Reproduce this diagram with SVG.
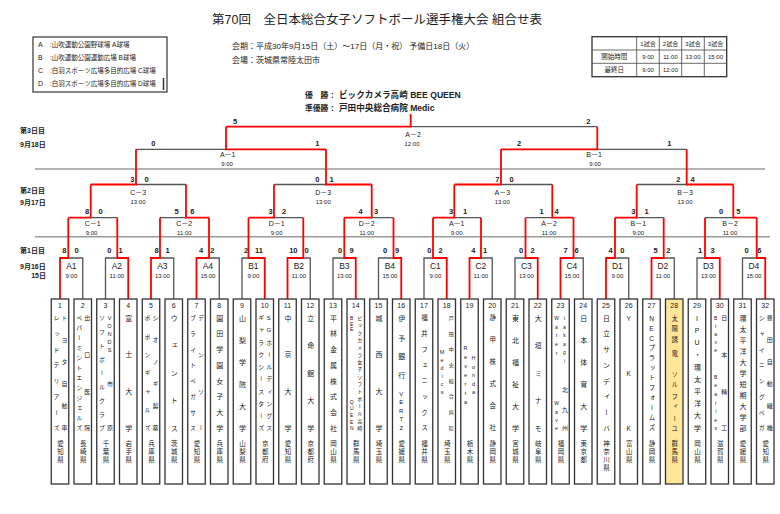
<svg xmlns="http://www.w3.org/2000/svg" width="780" height="514" viewBox="0 0 780 514">
<style>
text{font-family:"Liberation Sans","Noto Sans CJK JP",sans-serif;fill:#222}
.g{stroke:#555;stroke-width:1.3;fill:none}
.r{stroke:#f00;stroke-width:1.8;fill:none}
.sep{stroke:#9a9a9a;stroke-width:1.6}
.tb{fill:#fff;stroke:#333;stroke-width:1.3}
.hl{fill:#ffe699}
.no{font-size:7px;text-anchor:middle}
.v{writing-mode:vertical-rl;text-orientation:upright;text-anchor:middle}
.f7{font-size:7px}.f65{font-size:6.5px}.f6{font-size:6px}.f55{font-size:5.5px}.f5{font-size:5px}
.pf{font-size:6.5px}
.sc{font-size:7.5px;font-weight:bold;text-anchor:middle}
.ml{font-size:7px;text-anchor:middle}
.mt{font-size:6px;text-anchor:middle}
.fl{font-size:8.5px;text-anchor:middle}
.day{font-size:7px;font-weight:bold}
.lg{font-size:6.5px}
.tt{font-size:6px;text-anchor:middle}
.win{font-size:8.6px;font-weight:bold}
.wl{font-size:7.8px;font-weight:bold}
</style>

<g id="header">
<text x="212" y="24" style="font-size:12.5px">第70回　全日本総合女子ソフトボール選手権大会 組合せ表</text>
<text x="232" y="49" style="font-size:8px">会期：平成30年9月15日（土）～17日（月・祝） 予備日18日（火）</text>
<text x="232" y="63" style="font-size:8px">会場：茨城県常陸太田市</text>
<text class="wl" x="305" y="98">優　勝</text><text class="win" x="331" y="98">:</text><text class="win" x="339" y="98">ビックカメラ高崎 BEE QUEEN</text>
<text class="wl" x="305" y="111">準優勝</text><text class="win" x="331" y="111">:</text><text class="win" x="339" y="111">戸田中央総合病院 Medic</text>
</g>

<g id="legend">
<rect x="33" y="37" width="134" height="55" fill="none" stroke="#333" stroke-width="1.2"/>
<line x1="163.5" y1="78" x2="163.5" y2="90" stroke="#333" stroke-width="1.5"/>
<text class="lg" x="38" y="46.5" style="font-size:7px">A</text><text class="lg" x="50" y="46.5">:山吹運動公園野球場 A球場</text>
<text class="lg" x="38" y="59.5" style="font-size:7px">B</text><text class="lg" x="50" y="59.5">:山吹運動公園運動広場 B球場</text>
<text class="lg" x="38" y="72.5" style="font-size:7px">C</text><text class="lg" x="50" y="72.5">:白羽スポーツ広場多目的広場 C球場</text>
<text class="lg" x="38" y="85.5" style="font-size:7px">D</text><text class="lg" x="50" y="85.5">:白羽スポーツ広場多目的広場 D球場</text>
</g>

<g id="schedule-table">
<rect x="592" y="36.7" width="134.7" height="40" fill="none" stroke="#333" stroke-width="1.3"/>
<path d="M636.7 36.7V76.7M659.3 36.7V76.7M681.7 36.7V76.7M704.3 36.7V76.7M592 50H726.7M592 63.3H726.7" stroke="#444" stroke-width="0.8" fill="none"/>
<text class="tt" x="648" y="45.5">1試合</text><text class="tt" x="670.5" y="45.5">2試合</text><text class="tt" x="693" y="45.5">3試合</text><text class="tt" x="715.5" y="45.5">3試合</text>
<text class="tt" x="614.3" y="59" style="font-size:6.5px">開始時間</text><text class="tt" x="648" y="59">9:00</text><text class="tt" x="670.5" y="59">11:00</text><text class="tt" x="693" y="59">13:00</text><text class="tt" x="715.5" y="59">15:00</text>
<text class="tt" x="614.3" y="72.3" style="font-size:6.5px">最終日</text><text class="tt" x="648" y="72.3">9:00</text><text class="tt" x="670.5" y="72.3">12:00</text>
</g>

<g id="day-labels">
<text class="day" x="20" y="133">第3日目</text>
<text class="day" x="20" y="147">9月18日</text>
<text class="day" x="20" y="193">第2日目</text>
<text class="day" x="20" y="205">9月17日</text>
<text class="day" x="20" y="253">第1日目</text>
<text class="day" x="20" y="268.5">9月16日</text>
<text class="day" x="46" y="277.5" text-anchor="end">15日</text>
<line class="sep" x1="35" y1="169" x2="765" y2="169"/>
<line class="sep" x1="35" y1="236.7" x2="770" y2="236.7"/>
</g>

<g id="connectors">
<path class="g" d="M82.75 299V258H68.3M105.5 299V258H117.3M173.75 299V258H160M219.25 299V258H209M242 299V258H248.5M310.25 299V258H303.3M333 299V258H344.3M378.5 299V258H393.5M424 299V258H433M492.25 299V258H481M515 299V258H525.5M583.25 299V258H573.5M628.75 299V258H615M674.25 299V258H663.7M697 299V258H705M742.5 299V258H756.7"/>
<path class="g" d="M117.3 217.7H90.7M160 217.7H186M303.3 217.7H274M393.5 217.7H371.7M481 217.7H454.3M525.5 217.7H552.3M663.7 217.7H636.7M705 217.7H733.3"/>
<path class="g" d="M186 184.5H136M274 184.5H326M552.3 184.5H501M636.7 184.5H686.7"/>
<path class="g" d="M136 149.3H226M686.7 149.3H597.3M597.3 126.7H410.7"/>
<path class="r" d="M60 299V258H68.3V217.7M128.25 299V258H117.3V217.7M151 299V258H160V217.7M196.5 299V258H209V217.7M264.75 299V258H248.5V217.7M287.5 299V258H303.3V217.7M355.75 299V258H344.3V217.7M401.25 299V258H393.5V217.7M446.75 299V258H433V217.7M469.5 299V258H481V217.7M537.75 299V258H525.5V217.7M560.5 299V258H573.5V217.7M606 299V258H615V217.7M651.5 299V258H663.7V217.7M719.75 299V258H705V217.7M765.25 299V258H756.7V217.7"/>
<path class="r" d="M68.3 217.7H90.7V184.5M209 217.7H186V184.5M248.5 217.7H274V184.5M344.3 217.7H371.7V184.5M433 217.7H454.3V184.5M573.5 217.7H552.3V184.5M615 217.7H636.7V184.5M756.7 217.7H733.3V184.5"/>
<path class="r" d="M90.7 184.5H136V149.3M371.7 184.5H326V149.3M454.3 184.5H501V149.3M733.3 184.5H686.7V149.3"/>
<path class="r" d="M326 149.3H226V126.7M501 149.3H597.3V126.7M226 126.7H410.7V114"/>
</g>

<g id="match-final"><text class="sc" x="235" y="123.5">5</text><text class="sc" x="588.3" y="123.5">2</text><text class="ml" x="413" y="136.5">A－2</text><text class="mt" x="412" y="146">12:00</text></g>
<g id="match-3A1"><text class="sc" x="153.3" y="146">0</text><text class="sc" x="317.3" y="146">1</text><text class="ml" x="227.7" y="156.8">A－1</text><text class="mt" x="227" y="166">9:00</text></g>
<g id="match-3B1"><text class="sc" x="519" y="146">2</text><text class="sc" x="669.3" y="146">1</text><text class="ml" x="594" y="156.8">B－1</text><text class="mt" x="595" y="166">9:00</text></g>

<g id="match-C3"><text class="sc" x="132.3" y="182">3</text><text class="sc" x="146.7" y="182">0</text><text class="ml" x="138.3" y="195.2">C－3</text><text class="mt" x="138" y="204.3">13:00</text></g>
<g id="match-D3"><text class="sc" x="317.3" y="182">0</text><text class="sc" x="331.7" y="182">1</text><text class="ml" x="323.3" y="195.2">D－3</text><text class="mt" x="323.3" y="204.3">13:00</text></g>
<g id="match-A3"><text class="sc" x="497.3" y="182">7</text><text class="sc" x="511.7" y="182">0</text><text class="ml" x="502.3" y="195.2">A－3</text><text class="mt" x="502.3" y="204.3">13:00</text></g>
<g id="match-B3"><text class="sc" x="678.3" y="182">2</text><text class="sc" x="692.7" y="182">4</text><text class="ml" x="685" y="195.2">B－3</text><text class="mt" x="685" y="204.3">13:00</text></g>

<g id="match-C1"><text class="sc" x="87" y="213.5">8</text><text class="sc" x="100.7" y="213.5">0</text><text class="ml" x="92.7" y="225.8">C－1</text><text class="mt" x="91.5" y="235.3">9:00</text></g>
<g id="match-C2"><text class="sc" x="176.7" y="213.5">5</text><text class="sc" x="192.3" y="213.5">6</text><text class="ml" x="184.3" y="225.8">C－2</text><text class="mt" x="184.3" y="235.3">11:00</text></g>
<g id="match-D1"><text class="sc" x="270.7" y="213.5">3</text><text class="sc" x="284" y="213.5">2</text><text class="ml" x="276.7" y="225.8">D－1</text><text class="mt" x="276.7" y="235.3">9:00</text></g>
<g id="match-D2"><text class="sc" x="360.7" y="213.5">4</text><text class="sc" x="376" y="213.5">3</text><text class="ml" x="366.7" y="225.8">D－2</text><text class="mt" x="366.7" y="235.3">11:00</text></g>
<g id="match-A1q"><text class="sc" x="451" y="213.5">3</text><text class="sc" x="465" y="213.5">1</text><text class="ml" x="456.7" y="225.8">A－1</text><text class="mt" x="456.7" y="235.3">9:00</text></g>
<g id="match-A2q"><text class="sc" x="541.7" y="213.5">1</text><text class="sc" x="556.7" y="213.5">4</text><text class="ml" x="549" y="225.8">A－2</text><text class="mt" x="549" y="235.3">11:00</text></g>
<g id="match-B1q"><text class="sc" x="633.3" y="213.5">3</text><text class="sc" x="646.7" y="213.5">1</text><text class="ml" x="638.3" y="225.8">B－1</text><text class="mt" x="638.3" y="235.3">9:00</text></g>
<g id="match-B2q"><text class="sc" x="721" y="213.5">0</text><text class="sc" x="738.3" y="213.5">5</text><text class="ml" x="730" y="225.8">B－2</text><text class="mt" x="730" y="235.3">11:00</text></g>

<g id="match-A1"><text class="sc" x="64.3" y="252.5">8</text><text class="sc" x="76.7" y="252.5">0</text><text class="fl" x="71.4" y="268.8">A1</text><text class="mt" x="71.4" y="277.8">9:00</text></g>
<g id="match-A2"><text class="sc" x="109.3" y="252.5">0</text><text class="sc" x="120.7" y="252.5">1</text><text class="fl" x="116.9" y="268.8">A2</text><text class="mt" x="116.9" y="277.8">11:00</text></g>
<g id="match-A3"><text class="sc" x="156.7" y="252.5">8</text><text class="sc" x="167.7" y="252.5">1</text><text class="fl" x="162.4" y="268.8">A3</text><text class="mt" x="162.4" y="277.8">13:00</text></g>
<g id="match-A4"><text class="sc" x="201" y="252.5">4</text><text class="sc" x="212.3" y="252.5">2</text><text class="fl" x="207.9" y="268.8">A4</text><text class="mt" x="207.9" y="277.8">15:00</text></g>
<g id="match-B1"><text class="sc" x="246" y="252.5">2</text><text class="sc" x="259" y="252.5">11</text><text class="fl" x="253.4" y="268.8">B1</text><text class="mt" x="253.4" y="277.8">9:00</text></g>
<g id="match-B2"><text class="sc" x="293.3" y="252.5">10</text><text class="sc" x="306.7" y="252.5">0</text><text class="fl" x="298.9" y="268.8">B2</text><text class="mt" x="298.9" y="277.8">11:00</text></g>
<g id="match-B3"><text class="sc" x="340" y="252.5">0</text><text class="sc" x="351.7" y="252.5">9</text><text class="fl" x="344.4" y="268.8">B3</text><text class="mt" x="344.4" y="277.8">13:00</text></g>
<g id="match-B4"><text class="sc" x="385" y="252.5">0</text><text class="sc" x="397" y="252.5">9</text><text class="fl" x="389.9" y="268.8">B4</text><text class="mt" x="389.9" y="277.8">15:00</text></g>
<g id="match-C1r"><text class="sc" x="429.3" y="252.5">0</text><text class="sc" x="440.7" y="252.5">2</text><text class="fl" x="435.4" y="268.8">C1</text><text class="mt" x="435.4" y="277.8">9:00</text></g>
<g id="match-C2r"><text class="sc" x="473.3" y="252.5">4</text><text class="sc" x="485" y="252.5">1</text><text class="fl" x="480.9" y="268.8">C2</text><text class="mt" x="480.9" y="277.8">11:00</text></g>
<g id="match-C3r"><text class="sc" x="521" y="252.5">0</text><text class="sc" x="532.7" y="252.5">2</text><text class="fl" x="526.4" y="268.8">C3</text><text class="mt" x="526.4" y="277.8">13:00</text></g>
<g id="match-C4r"><text class="sc" x="565.7" y="252.5">7</text><text class="sc" x="576.7" y="252.5">6</text><text class="fl" x="571.9" y="268.8">C4</text><text class="mt" x="571.9" y="277.8">15:00</text></g>
<g id="match-D1r"><text class="sc" x="610.7" y="252.5">4</text><text class="sc" x="622.3" y="252.5">0</text><text class="fl" x="617.4" y="268.8">D1</text><text class="mt" x="617.4" y="277.8">9:00</text></g>
<g id="match-D2r"><text class="sc" x="655.7" y="252.5">5</text><text class="sc" x="668.3" y="252.5">2</text><text class="fl" x="662.9" y="268.8">D2</text><text class="mt" x="662.9" y="277.8">11:00</text></g>
<g id="match-D3r"><text class="sc" x="700" y="252.5">1</text><text class="sc" x="712.7" y="252.5">3</text><text class="fl" x="708.4" y="268.8">D3</text><text class="mt" x="708.4" y="277.8">13:00</text></g>
<g id="match-D4r"><text class="sc" x="746.7" y="252.5">0</text><text class="sc" x="759.3" y="252.5">6</text><text class="fl" x="753.9" y="268.8">D4</text><text class="mt" x="753.9" y="277.8">15:00</text></g>

<g id="team-1"><rect class="tb" x="51.25" y="299" width="17.5" height="185"/><text class="no" x="60" y="307.5">1</text>
<text class="v f6" x="64" y="318 340 362 384 406 428">トヨタ自動車</text>
<text class="v f6" x="56" y="318 333.7 349.4 365.1 380.9 396.6 412.3 428">レッドテリアーズ</text>
<text class="v pf" x="60" y="444 452 460">愛知県</text></g>

<g id="team-2"><rect class="tb" x="74" y="299" width="17.5" height="185"/><text class="no" x="82.75" y="307.5">2</text>
<text class="v f6" x="86.75" y="318 354.7 391.3 428">出口医院</text>
<text class="v f6" x="78.75" y="318 328 338 348 358 368 378 388 398 408 418 428">ペパーミントエンジェルズ</text>
<text class="v pf" x="82.75" y="444 452 460">長崎県</text></g>

<g id="team-3"><rect class="tb" x="96.75" y="299" width="17.5" height="185"/><text class="no" x="105.5" y="307.5">3</text>
<text class="v f55" x="109.5" y="318 326 334 342 350">VONDS</text>
<text class="v f6" x="109.5" y="384 428">市原</text>
<text class="v f6" x="101.5" y="318 331.8 345.5 359.3 373 386.8 400.5 414.3 428">ソフトボールクラブ</text>
<text class="v pf" x="105.5" y="444 452 460">千葉県</text></g>

<g id="team-4"><rect class="tb" x="119.5" y="299" width="17.5" height="185"/><text class="no" x="128.25" y="307.5">4</text>
<text class="v f7" x="128.25" y="318 354.7 391.3 428">富士大学</text>
<text class="v pf" x="128.25" y="444 452 460">岩手県</text></g>

<g id="team-5"><rect class="tb" x="142.25" y="299" width="17.5" height="185"/><text class="no" x="151" y="307.5">5</text>
<text class="v f6" x="155" y="318 340 362 384 406 428">シオノギ製薬</text>
<text class="v f6" x="147" y="318 336.3 354.7 373 391.3 409.7 428">ポポンギャルズ</text>
<text class="v pf" x="151" y="444 452 460">兵庫県</text></g>

<g id="team-6"><rect class="tb" x="165" y="299" width="17.5" height="185"/><text class="no" x="173.75" y="307.5">6</text>
<text class="v f7" x="173.75" y="318 345.5 373 400.5 428">ウェントス</text>
<text class="v pf" x="173.75" y="444 452 460">茨城県</text></g>

<g id="team-7"><rect class="tb" x="187.75" y="299" width="17.5" height="185"/><text class="no" x="196.5" y="307.5">7</text>
<text class="v f6" x="200.5" y="318 354.7 391.3 428">デンソー</text>
<text class="v f6" x="192.5" y="318 333.7 349.4 365.1 380.9 396.6 412.3 428">ブライトペガサス</text>
<text class="v pf" x="196.5" y="444 452 460">愛知県</text></g>

<g id="team-8"><rect class="tb" x="210.5" y="299" width="17.5" height="185"/><text class="no" x="219.25" y="307.5">8</text>
<text class="v f7" x="219.25" y="318 333.7 349.4 365.1 380.9 396.6 412.3 428">園田学園女子大学</text>
<text class="v pf" x="219.25" y="444 452 460">兵庫県</text></g>

<g id="team-9"><rect class="tb" x="233.25" y="299" width="17.5" height="185"/><text class="no" x="242" y="307.5">9</text>
<text class="v f7" x="242" y="318 340 362 384 406 428">山梨学院大学</text>
<text class="v pf" x="242" y="444 452 460">山梨県</text></g>

<g id="team-10"><rect class="tb" x="256" y="299" width="17.5" height="185"/><text class="no" x="264.75" y="307.5">10</text>
<text class="v f6" x="268.75" y="318 330.2 342.4 354.7 366.9 379.1 391.3 403.6 415.8 428">SGホールディングス</text>
<text class="v f6" x="260.75" y="318 330.2 342.4 354.7 366.9 379.1 391.3 403.6 415.8 428">ギャラクシースターズ</text>
<text class="v pf" x="264.75" y="444 452 460">京都府</text></g>

<g id="team-11"><rect class="tb" x="278.75" y="299" width="17.5" height="185"/><text class="no" x="287.5" y="307.5">11</text>
<text class="v f7" x="287.5" y="318 354.7 391.3 428">中京大学</text>
<text class="v pf" x="287.5" y="444 452 460">愛知県</text></g>

<g id="team-12"><rect class="tb" x="301.5" y="299" width="17.5" height="185"/><text class="no" x="310.25" y="307.5">12</text>
<text class="v f7" x="310.25" y="318 345.5 373 400.5 428">立命館大学</text>
<text class="v pf" x="310.25" y="444 452 460">京都府</text></g>

<g id="team-13"><rect class="tb" x="324.25" y="299" width="17.5" height="185"/><text class="no" x="333" y="307.5">13</text>
<text class="v f7" x="333" y="318 333.7 349.4 365.1 380.9 396.6 412.3 428">平林金属株式会社</text>
<text class="v pf" x="333" y="444 452 460">岡山県</text></g>

<g id="team-14"><rect class="tb" x="347" y="299" width="17.5" height="185"/><text class="no" x="355.75" y="307.5">14</text>
<text class="v f5" x="359.25" y="318 325.3 332.7 340 347.3 354.7 362 369.3 376.7 384 391.3 398.7 406 413.3 420.7 428">ビックカメラ女子ソフトボール高崎</text>
<text class="v f5" x="351.75" y="318 323.5 329">BEE</text>
<text class="v f5" x="351.75" y="401.7 408.3 415 421.7 428.3">QUEEN</text>
<text class="v pf" x="355.75" y="444 452 460">群馬県</text></g>

<g id="team-15"><rect class="tb" x="369.75" y="299" width="17.5" height="185"/><text class="no" x="378.5" y="307.5">15</text>
<text class="v f7" x="378.5" y="318 354.7 391.3 428">城西大学</text>
<text class="v pf" x="378.5" y="444 452 460">埼玉県</text></g>

<g id="team-16"><rect class="tb" x="392.5" y="299" width="17.5" height="185"/><text class="no" x="401.25" y="307.5">16</text>
<text class="v f7" x="401.25" y="318 338.3 356.7 375">伊予銀行</text>
<text class="v f6" x="401.25" y="394.3 402.3 411 419 428.3">VERTZ</text>
<text class="v pf" x="401.25" y="444 452 460">愛媛県</text></g>

<g id="team-17"><rect class="tb" x="415.25" y="299" width="17.5" height="185"/><text class="no" x="424" y="307.5">17</text>
<text class="v f65" x="424" y="318 333.7 349.4 365.1 380.9 396.6 412.3 428">福井フェニックス</text>
<text class="v pf" x="424" y="444 452 460">福井県</text></g>

<g id="team-18"><rect class="tb" x="438" y="299" width="17.5" height="185"/><text class="no" x="446.75" y="307.5">18</text>
<text class="v f5" x="450.75" y="318 333.7 349.4 365.1 380.9 396.6 412.3 428">戸田中央総合病院</text>
<text class="v f55" x="442" y="352 360 368 376 384 392">Medics</text>
<text class="v pf" x="446.75" y="444 452 460">埼玉県</text></g>

<g id="team-19"><rect class="tb" x="460.75" y="299" width="17.5" height="185"/><text class="no" x="469.5" y="307.5">19</text>
<text class="v f55" x="473.5" y="358 366.5 375 383.5 392">Honda</text>
<text class="v f55" x="465.5" y="348 357 366 375 384 393 402">Reverta</text>
<text class="v pf" x="469.5" y="444 452 460">栃木県</text></g>

<g id="team-20"><rect class="tb" x="483.5" y="299" width="17.5" height="185"/><text class="no" x="492.25" y="307.5">20</text>
<text class="v f65" x="492.25" y="318 340 362 384 406 428">静甲株式会社</text>
<text class="v pf" x="492.25" y="444 452 460">静岡県</text></g>

<g id="team-21"><rect class="tb" x="506.25" y="299" width="17.5" height="185"/><text class="no" x="515" y="307.5">21</text>
<text class="v f7" x="515" y="318 340 362 384 406 428">東北福祉大学</text>
<text class="v pf" x="515" y="444 452 460">宮城県</text></g>

<g id="team-22"><rect class="tb" x="529" y="299" width="17.5" height="185"/><text class="no" x="537.75" y="307.5">22</text>
<text class="v f7" x="537.75" y="318 345.5 373 400.5 428">大垣ミナモ</text>
<text class="v pf" x="537.75" y="444 452 460">岐阜県</text></g>

<g id="team-23"><rect class="tb" x="551.75" y="299" width="17.5" height="185"/><text class="no" x="560.5" y="307.5">23</text>
<text class="v f5" x="564.5" y="318 326.5 335 343.5 352 361">takagi</text>
<text class="v f6" x="564.5" y="390 410 428">北九州</text>
<text class="v f5" x="556.5" y="318 326.5 335 344 353">Water</text>
<text class="v f5" x="556.5" y="403 411.5 420 428.3">Wave</text>
<text class="v pf" x="560.5" y="444 452 460">福岡県</text></g>

<g id="team-24"><rect class="tb" x="574.5" y="299" width="17.5" height="185"/><text class="no" x="583.25" y="307.5">24</text>
<text class="v f7" x="583.25" y="318 340 362 384 406 428">日本体育大学</text>
<text class="v pf" x="583.25" y="444 452 460">東京都</text></g>

<g id="team-25"><rect class="tb" x="597.25" y="299" width="17.5" height="185"/><text class="no" x="606" y="307.5">25</text>
<text class="v f7" x="606" y="318 333.7 349.4 365.1 380.9 396.6 412.3 428">日立サンディーバ</text>
<text class="v pf" x="606" y="444 452 460 468">神奈川県</text></g>

<g id="team-26"><rect class="tb" x="620" y="299" width="17.5" height="185"/><text class="no" x="628.75" y="307.5">26</text>
<text class="v f65" x="628.75" y="318 373 428">YKK</text>
<text class="v pf" x="628.75" y="444 452 460">富山県</text></g>

<g id="team-27"><rect class="tb" x="642.75" y="299" width="17.5" height="185"/><text class="no" x="651.5" y="307.5">27</text>
<text class="v f65" x="651.5" y="318 328 338 348 358 368 378 388 398 408 418 428">NECプラットフォームズ</text>
<text class="v pf" x="651.5" y="444 452 460">静岡県</text></g>

<g id="team-28"><rect class="tb hl" x="665.5" y="299" width="17.5" height="185"/><text class="no" x="674.25" y="307.5">28</text>
<text class="v f65" x="674.25" y="318.3 328.3 340 353.3 375 385 396.7 406.7 418.3 428.3">太陽誘電ソルフィーユ</text>
<text class="v pf" x="674.25" y="444 452 460">群馬県</text></g>

<g id="team-29"><rect class="tb" x="688.25" y="299" width="17.5" height="185"/><text class="no" x="697" y="307.5">29</text>
<text class="v f7" x="697" y="318 330.2 342.4 354.7 366.9 379.1 391.3 403.6 415.8 428">IPU・環太平洋大学</text>
<text class="v pf" x="697" y="444 452 460">岡山県</text></g>

<g id="team-30"><rect class="tb" x="711" y="299" width="17.5" height="185"/><text class="no" x="719.75" y="307.5">30</text>
<text class="v f6" x="723.75" y="318 354.7 391.3 428">日本精工</text>
<text class="v f5" x="715.75" y="318 326 334 342 350">Brave</text>
<text class="v f5" x="715.75" y="376.7 385.3 393.9 402.5 411.1 419.7 428.3">Bearies</text>
<text class="v pf" x="719.75" y="444 452 460">滋賀県</text></g>

<g id="team-31"><rect class="tb" x="733.75" y="299" width="17.5" height="185"/><text class="no" x="742.5" y="307.5">31</text>
<text class="v f7" x="742.5" y="318 329 340 351 362 373 384 395 406 417 428">環太平洋大学短期大学部</text>
<text class="v pf" x="742.5" y="444 452 460">愛媛県</text></g>

<g id="team-32"><rect class="tb" x="756.5" y="299" width="17.5" height="185"/><text class="no" x="765.25" y="307.5">32</text>
<text class="v f6" x="769.25" y="318 340 362 384 406 428">豊田自動織機</text>
<text class="v f6" x="761.25" y="318 333.7 349.4 365.1 380.9 396.6 412.3 428">シャイニングベガ</text>
<text class="v pf" x="765.25" y="444 452 460">愛知県</text></g>
</svg>
